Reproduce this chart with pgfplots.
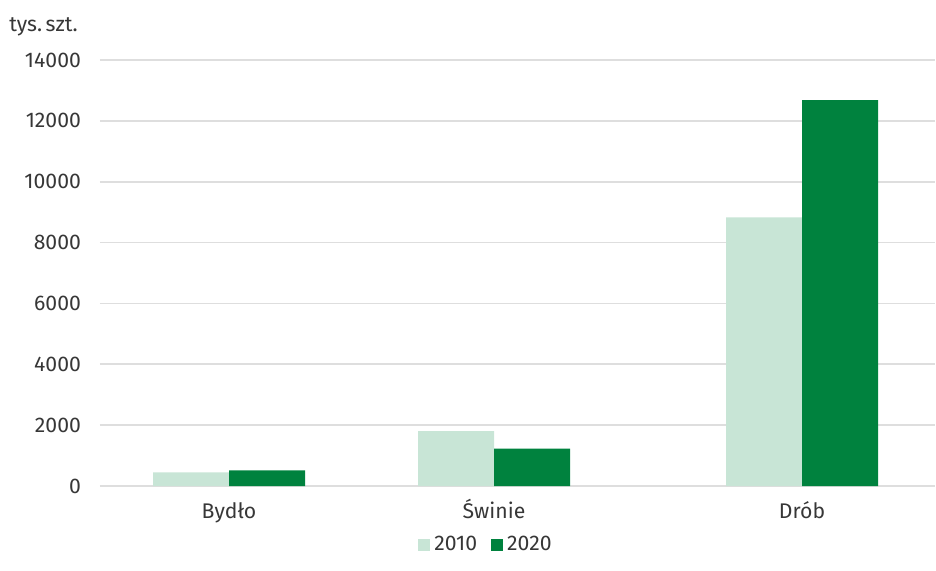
\documentclass[border=0pt]{standalone}
\usepackage{fontspec}
\setmainfont{Fira Sans}
\usepackage{pgfplots}
\pgfplotsset{compat=1.18}
\definecolor{lightg}{RGB}{200,229,214}
\definecolor{darkg}{RGB}{0,130,62}
\definecolor{gridc}{RGB}{222,222,222}
\definecolor{txt}{RGB}{55,55,55}
\newcommand\lblfont{\fontsize{10.6}{12}\selectfont}
\begin{document}
\begin{tikzpicture}
\useasboundingbox (-50pt,-42pt) rectangle (418pt,243pt);
\begin{axis}[
  scale only axis,
  width=417.5pt, height=213pt,
  xmin=0, xmax=835,
  ymin=0, ymax=14000,
  ytick={0,2000,...,14000},
  xtick={129,394,702},
  xticklabels={Bydło,Świnie,Drób},
  axis line style={draw=none},
  ymajorgrids,
  major grid style={gridc, line width=0.8pt},
  major tick length=0pt,
  tick label style={font=\lblfont, text=txt},
  /pgf/number format/assume math mode=true,
  scaled y ticks=false,
  yticklabel style={/pgf/number format/fixed, /pgf/number format/set thousands separator={}, xshift=-6pt},
  xticklabel style={anchor=base, yshift=-16pt},
  ybar, bar width=76,
  legend style={draw=none, at={(193.5pt,-29.5pt)}, anchor=center, legend columns=2,
    font=\lblfont, text=txt,
    /tikz/every even column/.append style={column sep=5pt}},
  legend image code/.code={\fill[#1] (0pt,-3pt) rectangle (6pt,3pt);},
  legend cell align=left,
]
\addplot[fill=lightg, draw=none, bar shift=-38] coordinates {(129,450) (394,1806) (702,8830)};
\addplot[fill=darkg, draw=none, bar shift=38] coordinates {(129,515) (394,1225) (702,12680)};
\legend{2010,2020}
\end{axis}
\node[anchor=west, font=\lblfont, text=txt, inner sep=0pt] at (-45.5pt,229.5pt) {tys.\,szt.};
\end{tikzpicture}
\end{document}
